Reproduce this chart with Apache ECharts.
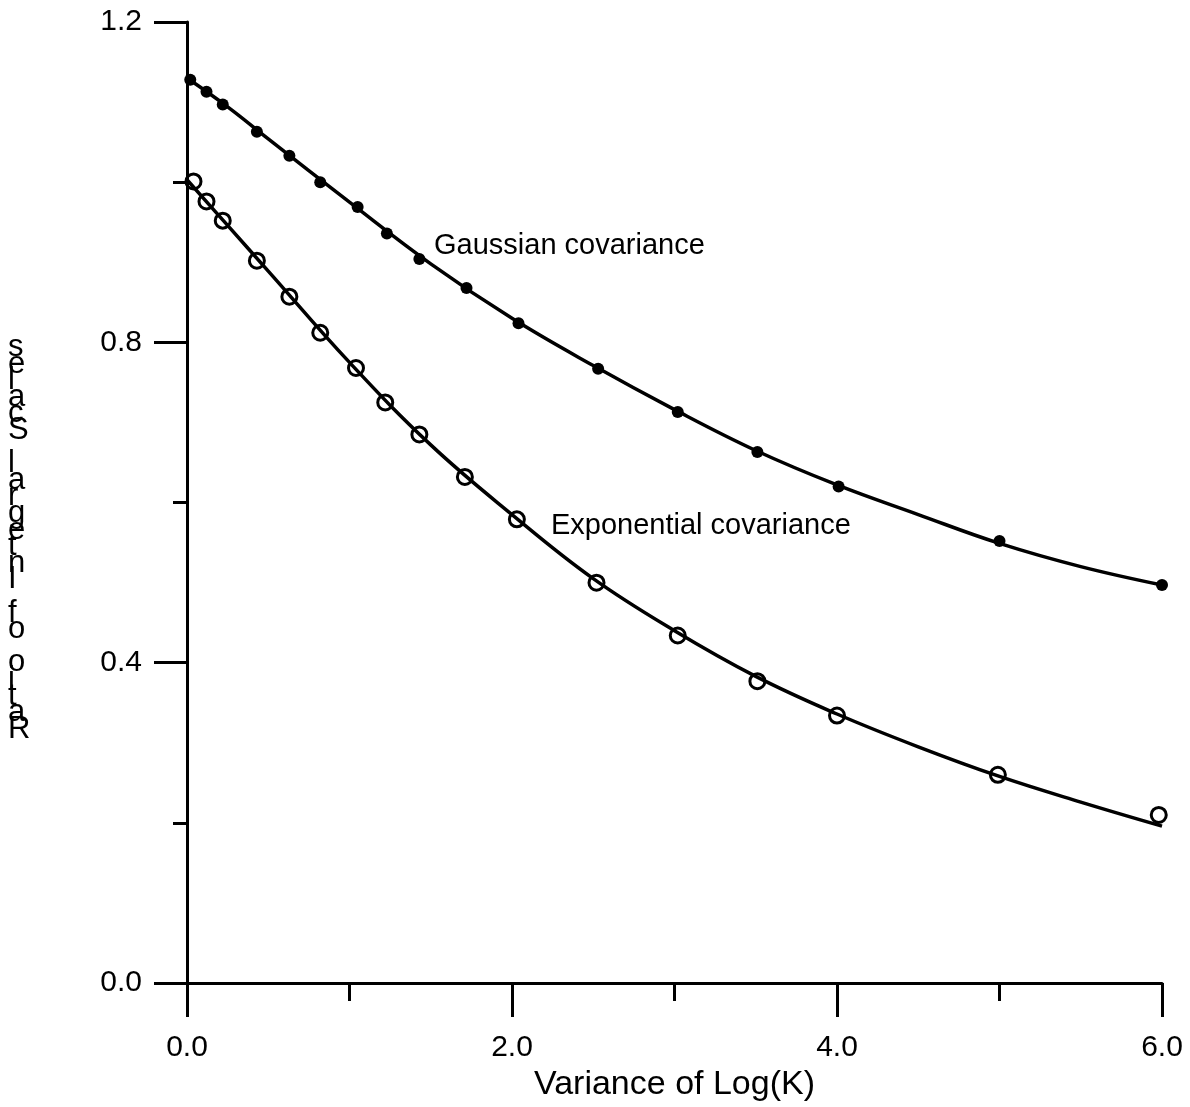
<!DOCTYPE html>
<html>
<head>
<meta charset="utf-8">
<script src="https://cdn.jsdelivr.net/npm/echarts@6/dist/echarts.min.js"></script>
<style>
  html, body { margin: 0; padding: 0; background: #fff; overflow: hidden; }
  #chart { width: 1190px; height: 1107px; }
</style>
</head>
<body>
<div id="chart"></div>
<script>
// ---- data ----
const gaussX = [0.02, 0.12, 0.22, 0.43, 0.63, 0.82, 1.05, 1.23, 1.43, 1.72, 2.04, 2.53, 3.02, 3.51, 4.01, 5.0, 6.0];
const gaussY = [1.128, 1.113, 1.097, 1.063, 1.033, 1.000, 0.969, 0.936, 0.904, 0.868, 0.824, 0.767, 0.713, 0.663, 0.620, 0.552, 0.497];

const expX = [0.04, 0.12, 0.22, 0.43, 0.63, 0.82, 1.04, 1.22, 1.43, 1.71, 2.03, 2.52, 3.02, 3.51, 4.0, 4.99, 5.98];
const expY = [1.001, 0.976, 0.952, 0.902, 0.857, 0.812, 0.768, 0.725, 0.685, 0.632, 0.579, 0.500, 0.434, 0.377, 0.334, 0.260, 0.210];

const fitX = [0, 0.25, 0.5, 1.0, 1.5, 2.0, 2.5, 3.0, 3.5, 4.0, 4.5, 5.0, 5.5, 6.0];
const gaussFitY = [1.130, 1.094, 1.054, 0.975, 0.898, 0.830, 0.771, 0.716, 0.665, 0.622, 0.585, 0.549, 0.520, 0.497];
const expFitY   = [1.003, 0.946, 0.889, 0.775, 0.672, 0.585, 0.505, 0.440, 0.383, 0.336, 0.295, 0.258, 0.226, 0.196];

const xTicks = [0, 2, 4, 6];
const yTicks = [0, 0.4, 0.8, 1.2];

const xName = 'Variance of Log(K)';
const yName = 'Ratio of Integral Scales';
const labelGauss = 'Gaussian covariance';
const labelExp = 'Exponential covariance';

// ---- build ----
const zip = (xs, ys) => xs.map((x, i) => [x, ys[i]]);
const black = '#000';
const font = 'Liberation Sans, Arial, sans-serif';

const chart = echarts.init(document.getElementById('chart'), null, { renderer: 'canvas', width: 1190, height: 1107 });
chart.setOption({
  backgroundColor: '#fff',
  animation: false,
  grid: { left: 187, width: 975, top: 22, height: 962, containLabel: false },
  xAxis: {
    type: 'value', min: xTicks[0], max: xTicks[xTicks.length - 1], interval: 2,
    axisLine: { show: true, lineStyle: { color: black, width: 3 } },
    axisTick: { show: true, length: 34, lineStyle: { color: black, width: 3 } },
    minorTick: { show: true, splitNumber: 2, length: 18, lineStyle: { color: black, width: 3 } },
    splitLine: { show: false },
    axisLabel: { color: black, fontSize: 30, fontFamily: font, margin: 50,
      formatter: v => v.toFixed(1) },
    name: xName, nameLocation: 'middle', nameGap: 82,
    nameTextStyle: { color: black, fontSize: 34, fontFamily: font }
  },
  yAxis: {
    type: 'value', min: yTicks[0], max: yTicks[yTicks.length - 1], interval: 0.4,
    axisLine: { show: true, lineStyle: { color: black, width: 3 } },
    axisTick: { show: true, length: 33, lineStyle: { color: black, width: 3 } },
    minorTick: { show: true, splitNumber: 2, length: 14, lineStyle: { color: black, width: 3 } },
    splitLine: { show: false },
    axisLabel: { color: black, fontSize: 30, fontFamily: font, margin: 45,
      formatter: v => v.toFixed(1) }
  },
  graphic: [
    { type: 'text', left: 434, top: 231,
      style: { text: labelGauss, fill: black, fontSize: 29, fontFamily: font } },
    { type: 'text', left: 551, top: 511,
      style: { text: labelExp, fill: black, fontSize: 29, fontFamily: font } },
    { type: 'text', left: 8, top: 332,
      style: { text: yName.split('').reverse().join('\n'), fill: black, fontSize: 31,
        lineHeight: 16.6, fontFamily: font, align: 'left' } }
  ],
  series: [
    { type: 'line', data: zip(fitX, gaussFitY), smooth: 0.4, showSymbol: false, symbol: 'none',
      lineStyle: { color: black, width: 3.5 }, z: 2 },
    { type: 'line', data: zip(fitX, expFitY), smooth: 0.4, showSymbol: false, symbol: 'none',
      lineStyle: { color: black, width: 3.5 }, z: 2 },
    { type: 'scatter', data: zip(gaussX, gaussY), symbol: 'circle', symbolSize: 12,
      itemStyle: { color: black, opacity: 1 }, z: 3 },
    { type: 'scatter', data: zip(expX, expY), symbol: 'circle', symbolSize: 15,
      itemStyle: { color: 'rgba(255,255,255,0)', borderColor: black, borderWidth: 3, opacity: 1 }, z: 3 }
  ]
});
</script>
</body>
</html>
